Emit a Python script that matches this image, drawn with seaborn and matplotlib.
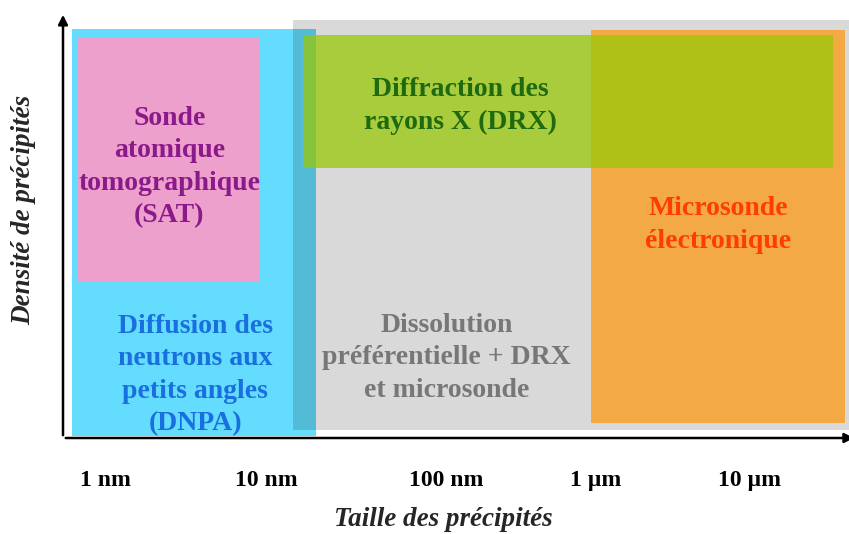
import matplotlib
matplotlib.use("Agg")
import matplotlib.pyplot as plt
import seaborn as sns

# size axis in decades above 1 nm, density axis in arbitrary units (0-100)
methods = ["DNPA", "SAT", "Dissolution", "Microsonde", "DRX"]
size_min = [-0.205, -0.168, 1.168, 3.019, 1.230]
size_max = [1.311, 0.963, 4.640, 4.596, 4.522]
dens_min = [0.5, 36.6, 1.9, 3.5, 63.4]
dens_max = [96.0, 94.1, 98.1, 95.8, 94.6]

labels = [
    "Diffusion des\nneutrons aux\npetits angles\n(DNPA)",
    "Sonde\natomique\ntomographique\n(SAT)",
    "Dissolution\npréférentielle + DRX\net microsonde",
    "Microsonde\nélectronique",
    "Diffraction des\nrayons X (DRX)",
]

tick_pos = [0.0, 1.0, 2.12, 3.05, 4.0]
tick_labels = ["1 nm", "10 nm", "100 nm", "1 µm", "10 µm"]

# styling
fill_colors = {"DNPA": "#63dcfd", "SAT": "#eea0cd", "Dissolution": "#000000",
               "Microsonde": "#f3aa44", "DRX": "#98c808"}
fill_alpha = {"DNPA": 1.0, "SAT": 1.0, "Dissolution": 0.15, "Microsonde": 1.0, "DRX": 0.75}
text_colors = {"DNPA": "#1a6fe0", "SAT": "#8a1a8a", "Dissolution": "#777777",
               "Microsonde": "#ff3d00", "DRX": "#1f6a10"}
text_xy = {"DNPA": (0.56, 14.8), "SAT": (0.40, 63.6), "Dissolution": (2.12, 18.8),
           "Microsonde": (3.81, 50.0), "DRX": (2.205, 77.9)}

sns.set_theme(style="white")
plt.rcParams["font.family"] = ["Liberation Serif", "DejaVu Serif"]

fig = plt.figure(figsize=(8.49, 5.34), dpi=100)
ax = fig.add_axes([63 / 849, 96 / 534, 786 / 849, 426 / 534])
ax.set_xlim(-0.261, 4.621)
ax.set_ylim(0, 100)

for i, m in enumerate(methods):
    ax.bar(size_min[i], dens_max[i] - dens_min[i], width=size_max[i] - size_min[i],
           bottom=dens_min[i], align="edge", color=fill_colors[m],
           alpha=fill_alpha[m], linewidth=0, zorder=i + 1)
    tx, ty = text_xy[m]
    ax.text(tx, ty, labels[i], ha="center", va="center", fontsize=20,
            fontweight="bold", color=text_colors[m], zorder=10, linespacing=1.4)

ax.set_xticks(tick_pos, tick_labels, fontsize=17, fontweight="bold")
ax.set_yticks([])
ax.tick_params(axis="x", length=0, pad=23, colors="black")
for s in ax.spines.values():
    s.set_visible(False)

# axis arrows
ax.annotate("", xy=(0, 1.0), xytext=(0, 0), xycoords="axes fraction",
            arrowprops=dict(arrowstyle="-|>", lw=1.8, color="black", mutation_scale=14),
            annotation_clip=False)
ax.annotate("", xy=(1.01, 0), xytext=(0, 0), xycoords="axes fraction",
            arrowprops=dict(arrowstyle="-|>", lw=1.8, color="black", mutation_scale=14),
            annotation_clip=False)

fig.text(443 / 849, 1 - 519 / 534, "Taille des précipités", ha="center", va="center",
         fontsize=19.5, fontweight="bold", fontstyle="italic")
fig.text(24 / 849, 1 - 210 / 534, "Densité de précipités", ha="center", va="center",
         rotation=90, fontsize=19.5, fontweight="bold", fontstyle="italic")

fig.savefig("out.png", dpi=100)
